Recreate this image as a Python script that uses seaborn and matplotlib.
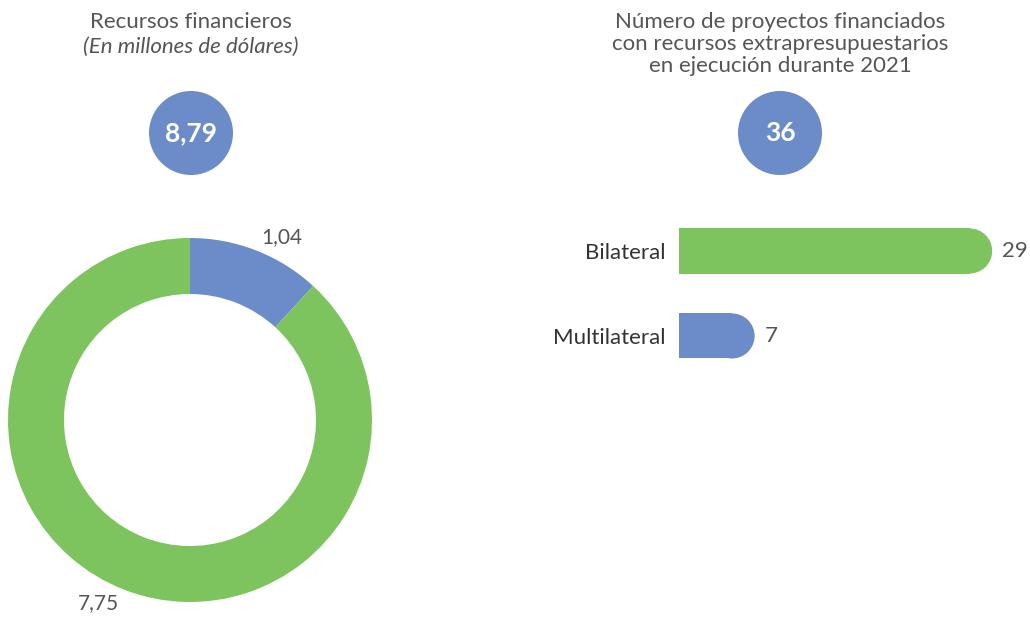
import seaborn as sns
import matplotlib.pyplot as plt
from matplotlib.patches import Ellipse

# donut data (millones de dolares)
recursos_labels = ["1,04", "7,75"]
recursos_vals = [1.04, 7.75]
recursos_total = "8,79"

# projects by source
proy_cats = ["Bilateral", "Multilateral"]
proy_vals = [29, 7]
proy_total = "36"

blue = "#6b8cc8"
green = "#7dc45e"
gray = "#555555"


def main():
    sns.set_style("white")
    plt.rcParams["font.family"] = ["Lato", "DejaVu Sans"]

    fig = plt.figure(figsize=(10.3, 6.19), dpi=100)
    W, H = 1030, 619

    # titles
    fig.text(191 / W, 1 - 22 / H, "Recursos financieros", ha="center", va="center",
             fontsize=16, color=gray)
    fig.text(191 / W, 1 - 47 / H, "(En millones de dólares)", ha="center", va="center",
             fontsize=16, color=gray, style="italic")
    right_title = ["Número de proyectos financiados",
                   "con recursos extrapresupuestarios",
                   "en ejecución durante 2021"]
    for i, line in enumerate(right_title):
        fig.text(780 / W, 1 - (22 + 22 * i) / H, line, ha="center", va="center",
                 fontsize=16, color=gray)

    # total badges
    for cx, txt in [(191, recursos_total), (780, proy_total)]:
        fig.add_artist(Ellipse((cx / W, 1 - 133 / H), 84 / W, 84 / H,
                               transform=fig.transFigure, color=blue, lw=0))
        fig.text(cx / W, 1 - 133 / H, txt, ha="center", va="center",
                 fontsize=19, color="white", fontweight="bold")

    # donut
    ax1 = fig.add_axes([0, 9 / H, 380 / W, 380 / H])
    ax1.pie(recursos_vals, colors=[blue, green], startangle=90,
            counterclock=False, radius=1, labels=recursos_labels,
            labeldistance=1.08,
            wedgeprops=dict(width=56 / 182, linewidth=0),
            textprops=dict(fontsize=15, color=gray))
    lim = 190 / 182
    ax1.set_xlim(-lim, lim)
    ax1.set_ylim(-lim, lim)
    ax1.set_aspect("equal")
    ax1.axis("off")

    # bars
    ax2 = fig.add_axes([679 / W, 1 - 380 / H, 345.6 / W, 180 / H])
    sns.barplot(x=proy_vals, y=proy_cats, hue=proy_cats, palette=[green, blue],
                width=0.53, saturation=1, legend=False, ax=ax2)
    ax2.set_xlim(0, 32)
    ax2.set_ylim(1.518, -0.6)
    sns.despine(ax=ax2, left=True, bottom=True)
    ax2.set_xticks([])
    ax2.set(xlabel="", ylabel="")
    ax2.tick_params(axis="y", length=0, pad=10, labelsize=16, labelcolor="#333333")

    # rounded right ends
    xpp = 32 / 345.6
    ypp = 2.118 / 180
    for p in list(ax2.patches):
        x0, y0, w, h = p.get_x(), p.get_y(), p.get_width(), p.get_height()
        rx = (h / ypp / 2) * xpp
        p.set_width(w - rx)
        p.set_linewidth(0)
        ax2.add_patch(Ellipse((w - rx, y0 + h / 2), 2 * rx, h,
                              color=p.get_facecolor(), lw=0))

    for i, v in enumerate(proy_vals):
        ax2.annotate(str(v), xy=(v, i), xytext=(10, 0), textcoords="offset pixels",
                     ha="left", va="center", fontsize=16, color=gray)

    plt.savefig("out.png", dpi=100)


if __name__ == "__main__":
    main()
